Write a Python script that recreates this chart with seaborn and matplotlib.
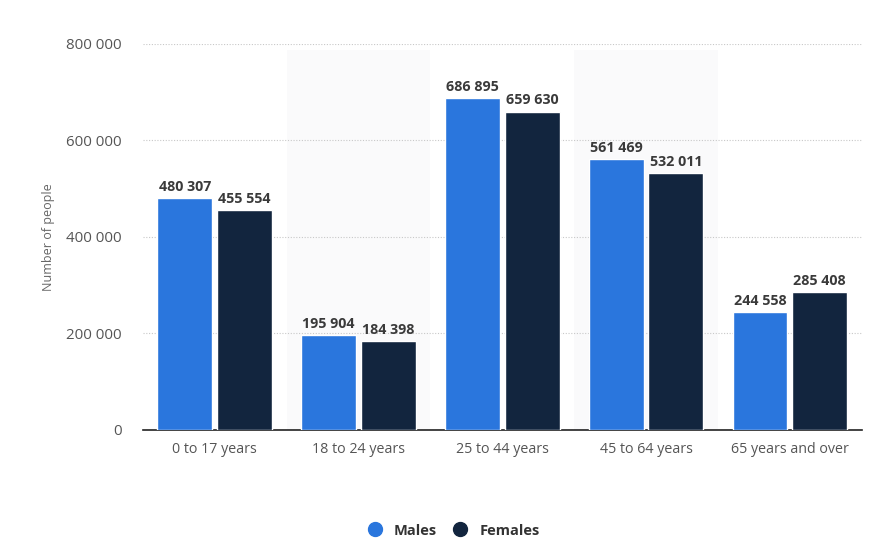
import matplotlib
matplotlib.use("Agg")
import matplotlib.pyplot as plt
import seaborn as sns
import pandas as pd
from matplotlib.lines import Line2D

categories = ["0 to 17 years", "18 to 24 years", "25 to 44 years", "45 to 64 years", "65 years and over"]
males = [480307, 195904, 686895, 561469, 244558]
females = [455554, 184398, 659630, 532011, 285408]
series = ["Males", "Females"]
colors = ["#2a76dd", "#12253e"]
yticks = [0, 200000, 400000, 600000, 800000]

df = pd.DataFrame({
    "category": categories * 2,
    "value": males + females,
    "series": ["Males"] * len(categories) + ["Females"] * len(categories),
})

sns.set_theme(style="white")
plt.rcParams["font.family"] = ["Open Sans", "DejaVu Sans"]

fig = plt.figure(figsize=(8.82, 5.47), dpi=100)
ax = fig.add_axes([0.162, 0.214, 0.815, 0.706])

for i in range(len(categories)):
    if i % 2 == 1:
        ax.axvspan(i - 0.5, i + 0.5, ymax=0.985, color="#fafafb", zorder=0, lw=0)

sns.barplot(data=df, x="category", y="value", hue="series", hue_order=series,
            palette=colors, width=0.83, gap=0.08, ax=ax, legend=False,
            saturation=1, zorder=3)

def fmt(v):
    return f"{int(v):,}".replace(",", " ")

for cont in ax.containers:
    ax.bar_label(cont, labels=[fmt(b.get_height()) for b in cont], padding=3,
                 fontsize=10.3, fontweight="bold", color="#3a3a3a")

ax.set_xlim(-0.5, len(categories) - 0.5)
ax.set_ylim(0, 800000)
ax.set_yticks(yticks)
ax.set_yticklabels([fmt(v) for v in yticks])
ax.yaxis.grid(True, linestyle=(0, (1, 1.5)), color="#c8c8c8", lw=0.8, zorder=1)
ax.set_axisbelow(True)
for s in ["top", "right", "left"]:
    ax.spines[s].set_visible(False)
ax.spines["bottom"].set_color("#222222")
ax.spines["bottom"].set_linewidth(1.2)
ax.tick_params(axis="both", length=0, colors="#555555", labelsize=10.3)
ax.tick_params(axis="y", labelsize=10.8, pad=15)
ax.tick_params(axis="x", pad=9)
ax.set_xlabel("")
ax.set_ylabel("Number of people", fontsize=9, color="#666666", labelpad=8)

handles = [Line2D([0], [0], marker="o", linestyle="", markersize=10,
                  markerfacecolor=c, markeredgecolor=c) for c in colors]
leg = fig.legend(handles, series, loc="center", bbox_to_anchor=(0.51, 0.03),
                 ncol=2, frameon=False, handletextpad=0.3, columnspacing=0.6,
                 prop={"weight": "bold", "size": 10.5})
for t in leg.get_texts():
    t.set_color("#333333")

fig.savefig("out.png", dpi=100, facecolor="white")
